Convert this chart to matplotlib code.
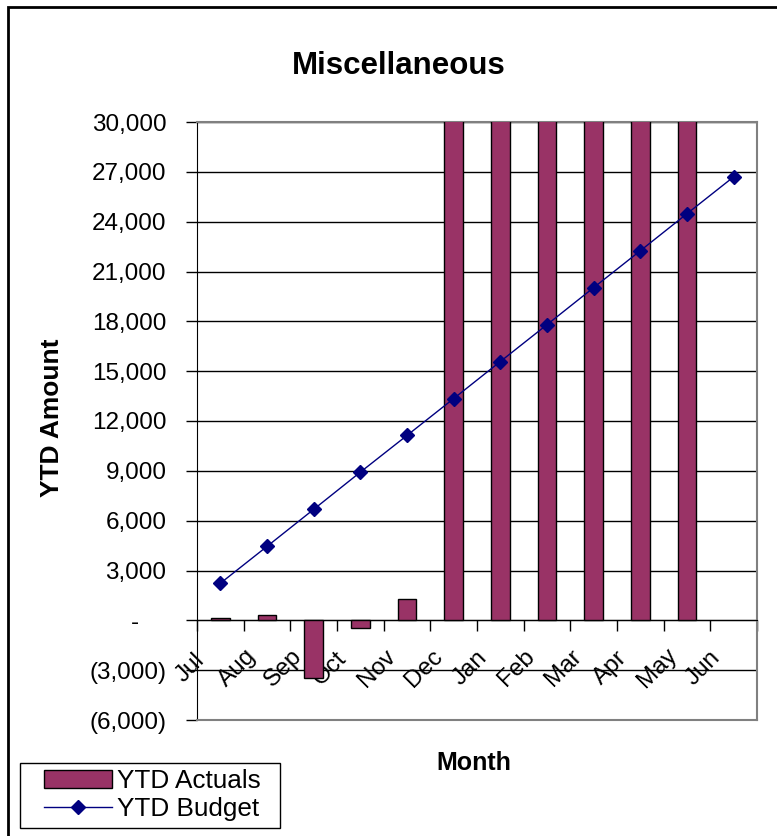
import numpy as np
import matplotlib
matplotlib.use("Agg")
import matplotlib.pyplot as plt
from matplotlib.patches import Rectangle
from matplotlib.transforms import ScaledTranslation

plt.rcParams["font.family"] = ["Liberation Sans", "DejaVu Sans"]

MONTHS = ["Jul", "Aug", "Sep", "Oct", "Nov", "Dec",
          "Jan", "Feb", "Mar", "Apr", "May", "Jun"]
# Dec-May run off the top of the 30,000 axis in the source, so their true size is unknown
YTD_ACTUALS = [150, 330, -3450, -480, 1280, 45000,
               45000, 45000, 45000, 45000, 45000, np.nan]
YTD_BUDGET = [2230, 4450, 6680, 8920, 11130, 13350,
              15580, 17800, 20030, 22250, 24480, 26700]
Y_TICKS = [-6000, -3000, 0, 3000, 6000, 9000, 12000, 15000,
           18000, 21000, 24000, 27000, 30000]
Y_LABELS = ["(6,000)", "(3,000)", "-    ", "3,000", "6,000", "9,000", "12,000",
            "15,000", "18,000", "21,000", "24,000", "27,000", "30,000"]

BAR, LINE, GREY = "#993366", "#000080", "#808080"
W, H = 777, 836

fig = plt.figure(figsize=(W / 100, H / 100), dpi=100)
ax = fig.add_axes([197 / W, 1 - 720 / H, 560 / W, 598 / H])
x = np.arange(len(MONTHS))

bars = ax.bar(x, YTD_ACTUALS, width=0.4, color=BAR, edgecolor="black", lw=1,
              zorder=3)
line, = ax.plot(x, YTD_BUDGET, color=LINE, lw=1, marker="D", ms=7, zorder=4)

ax.set_xlim(-0.5, len(MONTHS) - 0.5)
ax.set_ylim(Y_TICKS[0], Y_TICKS[-1])
ax.set_yticks(Y_TICKS, Y_LABELS)
ax.yaxis.grid(True, color="black", lw=1)
ax.set_axisbelow(True)
ax.tick_params(axis="y", length=8, width=1, pad=14, labelsize=17.5)

# category axis sits on the zero line
ax.spines["bottom"].set_position(("data", 0))
ax.spines["bottom"].set_color("black")
ax.spines["left"].set_color("black")
for s in ("top", "right"):
    ax.spines[s].set_color(GREY)
    ax.spines[s].set_linewidth(1.5)
ax.axhline(Y_TICKS[0], color=GREY, lw=1.5, clip_on=False, zorder=5)

ax.set_xticks(np.arange(len(MONTHS) + 1) - 0.5, [""] * (len(MONTHS) + 1))
ax.set_xticks(x, MONTHS, minor=True)
ax.tick_params(axis="x", which="major", length=8, width=1, direction="out")
ax.tick_params(axis="x", which="minor", length=0, pad=0, labelsize=17.5)
shift = ScaledTranslation(-0.30, -0.48, fig.dpi_scale_trans)
for lbl in ax.get_xticklabels(minor=True):
    lbl.set_rotation(45)
    lbl.set_ha("center")
    lbl.set_va("center")
    lbl.set_transform(lbl.get_transform() + shift)

fig.text(399 / W, 1 - 66 / H, "Miscellaneous", fontsize=22.5, fontweight="bold",
         ha="center", va="center")
fig.text(52 / W, 1 - 418 / H, "YTD Amount", fontsize=19, fontweight="bold",
         rotation=90, ha="center", va="center")
fig.text(474 / W, 1 - 763 / H, "Month", fontsize=18, fontweight="bold",
         ha="center", va="center")

# legend box drawn by hand: Excel pads it more sideways than top/bottom
fig.legend([bars, line], ["YTD Actuals", "YTD Budget"],
           loc="center left", bbox_to_anchor=(44 / W, 1 - 795 / H), fontsize=18.8,
           frameon=False, borderpad=0, handlelength=2.6, handletextpad=0.2,
           labelspacing=0.15, borderaxespad=0)
fig.add_artist(Rectangle((20 / W, 1 - 828 / H), 260 / W, 65 / H,
                         transform=fig.transFigure, fill=False,
                         edgecolor="black", lw=1))

# outer chart-area border (cut off on the right and bottom in the source)
fig.add_artist(Rectangle((8 / W, -0.2), 1.2, 1.2 - 7 / H, transform=fig.transFigure,
                         fill=False, edgecolor="black", lw=2))

fig.savefig("out.png", dpi=100)
